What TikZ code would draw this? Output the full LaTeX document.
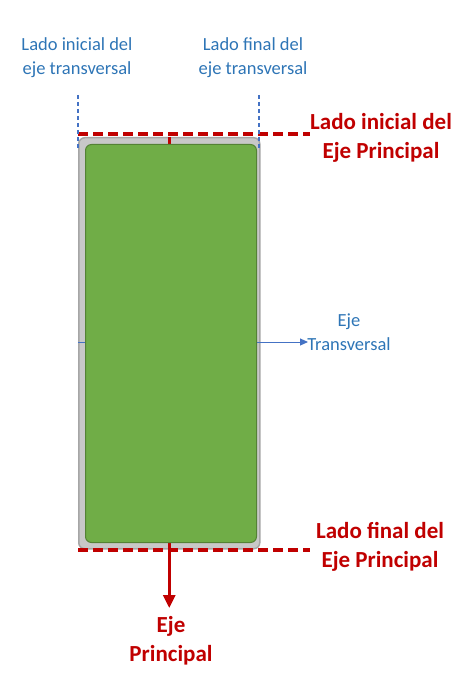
\documentclass[tikz,border=0pt]{standalone}
\usepackage{fontspec}
\setmainfont{Carlito}
\usetikzlibrary{arrows.meta}
\definecolor{txtblue}{HTML}{2E75B6}
\definecolor{lineblue}{HTML}{4472C4}
\definecolor{axred}{HTML}{C00000}
\definecolor{greenfill}{HTML}{70AD47}
\definecolor{greenline}{HTML}{548235}
\definecolor{greyfill}{HTML}{C8C8C8}
\definecolor{greyline}{HTML}{A6A6A6}
\tikzset{
  bluelabel/.style={text=txtblue, align=center, font=\fontsize{18.5}{24}\selectfont, inner sep=0pt},
  redlabel/.style={text=axred, align=center, font=\bfseries\fontsize{23}{29}\selectfont, inner sep=0pt},
  reddash/.style={draw=axred, line width=4pt, dash pattern=on 10pt off 5pt},
  bluedash/.style={draw=lineblue, line width=1.8pt, dash pattern=on 4pt off 3pt},
  mainaxis/.style={draw=axred, line width=3pt, -{Triangle[length=13pt,width=12pt]}},
  transaxis/.style={draw=lineblue, line width=1pt, -{Triangle[length=8pt,width=7pt]}},
}
\begin{document}
\begin{tikzpicture}[x=1pt,y=-1pt]
\useasboundingbox (0,0) rectangle (474,679);
% outer frame
\node[draw=greyline, fill=greyfill, line width=1.5pt, rounded corners=6pt,
      minimum width=181pt, minimum height=411pt, inner sep=0pt, anchor=north west] (frame) at (78,137) {};
% axes (behind the body)
\coordinate (pend) at (169,608);
\coordinate (tend) at (308,342);
\draw[mainaxis] (frame.north) -- (frame.north |- pend);
\draw[transaxis] (frame.west |- tend) -- (tend);
% body
\node[draw=greenline, fill=greenfill, line width=1pt, rounded corners=6pt,
      minimum width=171pt, minimum height=398pt, inner sep=0pt, anchor=north west] (body) at (85,144) {};
% dashed sides
\coordinate (rt1) at (78,134); \coordinate (rt2) at (310,134);
\coordinate (rb1) at (78,550); \coordinate (rb2) at (310,550);
\draw[reddash] (rt1) -- (rt2);
\draw[reddash] (rb1) -- (rb2);
\coordinate (bl1) at (78,95); \coordinate (bl2) at (78,150);
\coordinate (br1) at (259,95); \coordinate (br2) at (259,150);
\draw[bluedash] (bl1) -- (bl2);
\draw[bluedash] (br1) -- (br2);
% labels
\node[bluelabel] (tinit) at (77,58) {Lado inicial del\\eje transversal};
\node[bluelabel] (tfin) at (253,58) {Lado final del\\eje transversal};
\node[bluelabel] (tax) at (349,332) {Eje\\Transversal};
\node[redlabel] (pinit) at (381,138) {Lado inicial del\\Eje Principal};
\node[redlabel] (pfin) at (380,547) {Lado final del\\Eje Principal};
\node[redlabel] (pax) at (171,641) {Eje\\Principal};
\end{tikzpicture}
\end{document}
